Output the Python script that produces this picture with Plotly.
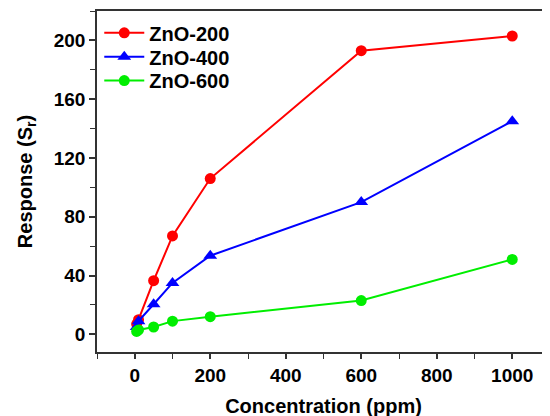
import plotly.graph_objects as go

conc = [5, 10, 50, 100, 200, 600, 1000]
zno200 = [7, 10, 36.5, 67, 106, 193, 203]
zno400 = [5, 9, 20.5, 35, 53.5, 90, 145]
zno600 = [2, 3, 5, 9, 12, 23, 51]

series = [
    ("ZnO-200", zno200, "#ff0000", "circle"),
    ("ZnO-400", zno400, "#0000ff", "triangle-up"),
    ("ZnO-600", zno600, "#00ee00", "circle"),
]
legend_ids = ["legend", "legend2", "legend3"]
legend_y = [0.936, 0.866, 0.796]

font = "Liberation Sans, Arial, sans-serif"

fig = go.Figure()
for (name, ys, col, sym), lid in zip(series, legend_ids):
    fig.add_trace(go.Scatter(
        x=conc, y=ys, name=name, mode="lines+markers", legend=lid,
        line=dict(color=col, width=2),
        marker=dict(color=col, symbol=sym, size=11 if sym == "circle" else 12, line=dict(width=0)),
    ))

legend_style = dict(x=0.005, xanchor="left", yanchor="middle",
                    bgcolor="rgba(0,0,0,0)",
                    font=dict(size=20, family=font, color="black", weight="bold"),
                    itemwidth=40)

# page body has an 8px default margin, so the figure is offset by (8, 8)
fig.update_layout(
    width=550, height=416,
    margin=dict(l=89, r=8, t=3, b=72),
    paper_bgcolor="white", plot_bgcolor="white",
    font=dict(family=font, color="black"),
    showlegend=True,
    legend=dict(y=legend_y[0], **legend_style),
    legend2=dict(y=legend_y[1], **legend_style),
    legend3=dict(y=legend_y[2], **legend_style),
    xaxis=dict(
        range=[-100, 1100], tickvals=[0, 200, 400, 600, 800, 1000],
        automargin=False,
        showgrid=False, zeroline=False, showline=True, linecolor="#333", linewidth=1.5,
        mirror=True, ticks="outside", ticklen=5, tickwidth=1.5, tickcolor="#333",
        minor=dict(tickvals=[-100, 100, 300, 500, 700, 900, 1100], ticks="outside", ticklen=5, tickcolor="#333", tickwidth=1.2),
        tickfont=dict(size=19, family=font, color="black", weight="bold"),
        title=dict(text="Concentration (ppm)", font=dict(size=20, family=font, color="black", weight="bold"), standoff=14),
    ),
    yaxis=dict(
        range=[-12, 220], tickvals=[0, 40, 80, 120, 160, 200],
        automargin=False,
        showgrid=False, zeroline=False, showline=True, linecolor="#333", linewidth=1.5,
        mirror=True, ticks="outside", ticklen=6, tickwidth=1.5, tickcolor="#333",
        minor=dict(tickvals=[20, 60, 100, 140, 180, 220], ticks="outside", ticklen=5, tickcolor="#333", tickwidth=1.2),
        tickfont=dict(size=19, family=font, color="black", weight="bold"),
        title=dict(text="Response (S<sub>r</sub>)", font=dict(size=20, family=font, color="black", weight="bold"), standoff=16),
    ),
)

fig.write_html("out.html")
